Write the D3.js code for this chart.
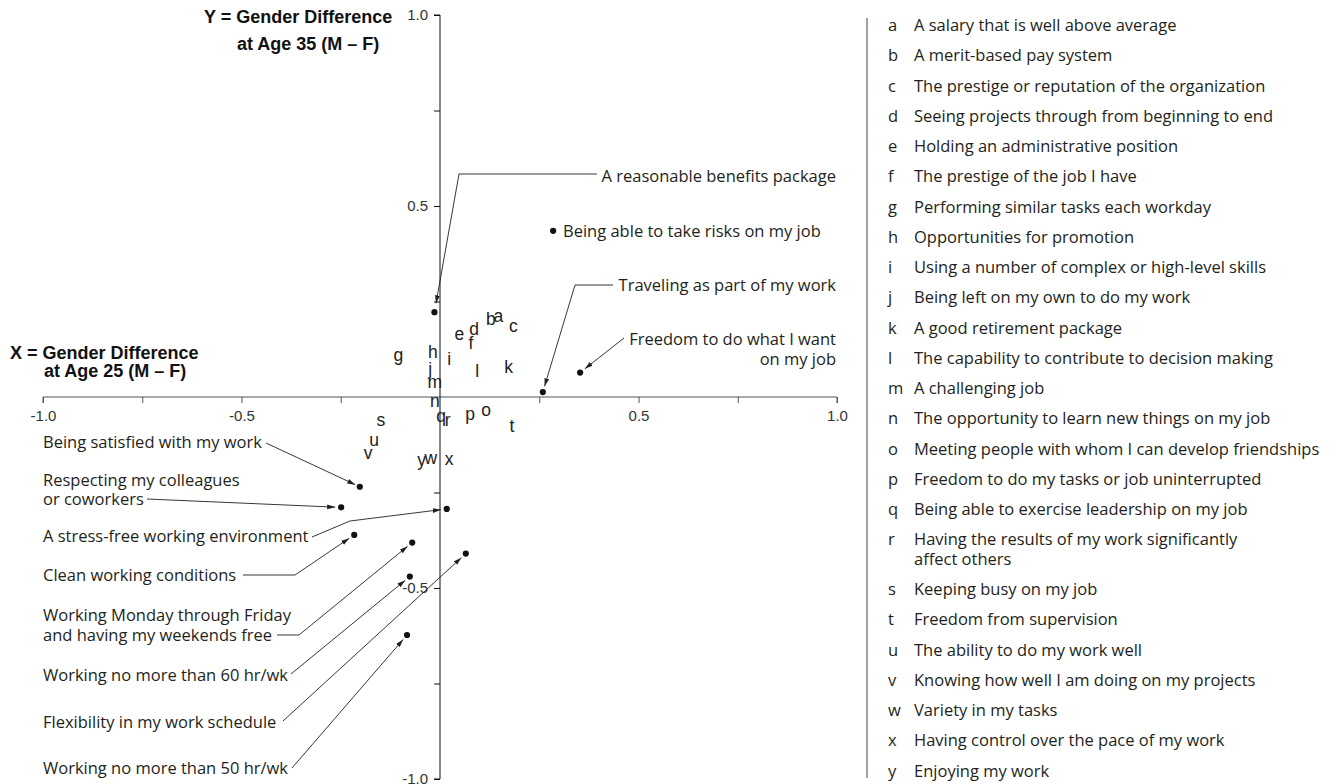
<!DOCTYPE html>
<html><head><meta charset="utf-8">
<script src="https://cdn.jsdelivr.net/npm/d3@7"></script>
<style>body{margin:0;background:#fff;} svg{display:block;}</style>
</head><body>
<svg id="chart" width="1337" height="784"></svg>
<script>
// ---------- DATA ----------
const letters = ["a","b","c","d","e","f","g","h","i","j","k","l","m","n","o","p","q","r","s","t","u","v","w","x","y"];
const descriptions = [
  ["A salary that is well above average"],
  ["A merit-based pay system"],
  ["The prestige or reputation of the organization"],
  ["Seeing projects through from beginning to end"],
  ["Holding an administrative position"],
  ["The prestige of the job I have"],
  ["Performing similar tasks each workday"],
  ["Opportunities for promotion"],
  ["Using a number of complex or high-level skills"],
  ["Being left on my own to do my work"],
  ["A good retirement package"],
  ["The capability to contribute to decision making"],
  ["A challenging job"],
  ["The opportunity to learn new things on my job"],
  ["Meeting people with whom I can develop friendships"],
  ["Freedom to do my tasks or job uninterrupted"],
  ["Being able to exercise leadership on my job"],
  ["Having the results of my work significantly", "affect others"],
  ["Keeping busy on my job"],
  ["Freedom from supervision"],
  ["The ability to do my work well"],
  ["Knowing how well I am doing on my projects"],
  ["Variety in my tasks"],
  ["Having control over the pace of my work"],
  ["Enjoying my work"]
];
// X = gender difference at age 25, Y = gender difference at age 35
const letterX = [0.147,0.128,0.185,0.086,0.049,0.078,-0.105,-0.018,0.023,-0.025,0.173,0.094,-0.013,-0.013,0.116,0.076,0.003,0.019,-0.149,0.181,-0.166,-0.181,-0.023,0.023,-0.046];
const letterY = [0.210,0.202,0.184,0.177,0.164,0.141,0.110,0.116,0.099,0.073,0.078,0.068,0.037,-0.012,-0.034,-0.045,-0.052,-0.060,-0.060,-0.078,-0.113,-0.147,-0.160,-0.163,-0.165];

const calloutNames = [
  ["A reasonable benefits package"],
  ["Being able to take risks on my job"],
  ["Traveling as part of my work"],
  ["Freedom to do what I want", "on my job"],
  ["Being satisfied with my work"],
  ["Respecting my colleagues", "or coworkers"],
  ["A stress-free working environment"],
  ["Clean working conditions"],
  ["Working Monday through Friday", "and having my weekends free"],
  ["Working no more than 60 hr/wk"],
  ["Flexibility in my work schedule"],
  ["Working no more than 50 hr/wk"]
];
const calloutX = [-0.014,0.285,0.259,0.353,-0.202,-0.249,0.017,-0.216,-0.070,-0.076,0.065,-0.083];
const calloutY = [0.222,0.435,0.013,0.064,-0.235,-0.289,-0.293,-0.361,-0.381,-0.470,-0.410,-0.623];

const axisTicks = [-1,-0.75,-0.5,-0.25,0.25,0.5,0.75,1];
const labelledTicks = [-1,-0.5,0.5,1];
const xTitle = ["X = Gender Difference", "at Age 25 (M \u2013 F)"];
const yTitle = ["Y = Gender Difference", "at Age 35 (M \u2013 F)"];

// ---------- LAYOUT ----------
const svg = d3.select("#chart");
const x = d3.scaleLinear().domain([-1, 1]).range([43, 837]);
const y = d3.scaleLinear().domain([-1, 1]).range([779, 15]);
const ink = "#231f20";
const sansFont = "'Open Sans', sans-serif";
const sansSize = 16.5;
const helv = "'Liberation Sans', Arial, sans-serif";

svg.append("rect").attr("width",1337).attr("height",784).attr("fill","#fff");

const defs = svg.append("defs");
defs.append("marker").attr("id","arrow")
  .attr("viewBox","0 -3 8 6").attr("refX",8).attr("refY",0)
  .attr("markerWidth",8).attr("markerHeight",6)
  .attr("markerUnits","userSpaceOnUse").attr("orient","auto")
  .append("path").attr("d","M0,-2.4L8,0L0,2.4Z").attr("fill",ink);

const fmt = d => labelledTicks.includes(d) ? d3.format(".1f")(d).replace("\u2212","-") : "";

// X axis
const gx = svg.append("g").attr("transform", `translate(0,${y(0)})`)
  .call(d3.axisBottom(x).tickValues(axisTicks).tickFormat(fmt).tickSize(6).tickPadding(7));
gx.select(".domain").attr("stroke","#555").attr("d", `M${x(-1)},6V0H${x(1)}V6`);
gx.selectAll(".tick line").attr("stroke","#555");
gx.selectAll(".tick text").attr("font-family",helv).attr("font-size",15).attr("fill","#333");

// Y axis
const gy = svg.append("g").attr("transform", `translate(${x(0)},0)`)
  .call(d3.axisLeft(y).tickValues(axisTicks).tickFormat(fmt).tickSize(6).tickPadding(6));
gy.select(".domain").attr("stroke","#111").attr("d", `M-6,${y(1)}H0V${y(-1)}H-6`);
gy.selectAll(".tick line").attr("stroke","#111");
gy.selectAll(".tick text").attr("font-family",helv).attr("font-size",15).attr("fill","#333");

// Axis titles
const yt = svg.append("text").attr("font-family",helv).attr("font-weight","bold")
  .attr("font-size",18).attr("fill","#111");
yt.append("tspan").attr("x",204).attr("y",23).text(yTitle[0]);
yt.append("tspan").attr("x",237).attr("y",50).text(yTitle[1]);
const xt = svg.append("text").attr("font-family",helv).attr("font-weight","bold")
  .attr("font-size",18).attr("fill","#111");
xt.append("tspan").attr("x",10).attr("y",359).text(xTitle[0]);
xt.append("tspan").attr("x",44).attr("y",376.5).text(xTitle[1]);

// Letter marks
svg.append("g").selectAll("text").data(letters).join("text")
  .attr("x",(d,i)=>x(letterX[i])).attr("y",(d,i)=>y(letterY[i]))
  .attr("dy","0.32em").attr("text-anchor","middle")
  .attr("font-family",helv).attr("font-size",17.5).attr("fill","#222")
  .text(d=>d);

// Callout dots
svg.append("g").selectAll("circle").data(calloutNames).join("circle")
  .attr("cx",(d,i)=>x(calloutX[i])).attr("cy",(d,i)=>y(calloutY[i]))
  .attr("r",3.1).attr("fill","#111");

// Callout label layout (pixel layout, not data)
const calloutLayout = [
  {anchor:"end",  tx:836, ty:176, lh:20, path:[[597,174],[459,174]], gap:9},
  {anchor:"start",tx:563, ty:231, lh:20, path:null},
  {anchor:"end",  tx:836, ty:285, lh:20, path:[[613,285],[575,285]], gap:6},
  {anchor:"end",  tx:836, ty:339, lh:20, path:[[624,338]], gap:6},
  {anchor:"start",tx:43,  ty:442, lh:20, path:[[266,443]], gap:5},
  {anchor:"start",tx:43,  ty:480, lh:19.5, path:[[147,499]], gap:6},
  {anchor:"start",tx:43,  ty:536, lh:20, path:[[312,537],[350,521]], gap:6},
  {anchor:"start",tx:43,  ty:575, lh:20, path:[[243,575],[295,575]], gap:6},
  {anchor:"start",tx:43,  ty:615, lh:20, path:[[277,635],[299,635]], gap:6},
  {anchor:"start",tx:43,  ty:675, lh:20, path:[[291,674]], gap:6},
  {anchor:"start",tx:43,  ty:722, lh:20, path:[[283,721]], gap:6},
  {anchor:"start",tx:43,  ty:768, lh:20, path:[[292,768]], gap:6}
];

const gc = svg.append("g");
calloutNames.forEach((lines, i) => {
  const L = calloutLayout[i];
  const t = gc.append("text").attr("font-family",sansFont).attr("font-size",sansSize)
    .attr("fill",ink).attr("text-anchor",L.anchor);
  lines.forEach((s, k) => t.append("tspan").attr("x",L.tx).attr("y",L.ty + k*L.lh).attr("dy","0.35em").text(s));
  if (L.path) {
    const px = x(calloutX[i]), py = y(calloutY[i]);
    const last = L.path[L.path.length-1];
    const dx = px - last[0], dy = py - last[1];
    const len = Math.hypot(dx, dy);
    const tip = [px - dx/len*L.gap, py - dy/len*L.gap];
    const pts = L.path.concat([tip]);
    gc.append("path").attr("d", d3.line()(pts)).attr("fill","none")
      .attr("stroke",ink).attr("stroke-width",0.9).attr("marker-end","url(#arrow)");
  }
});

// Legend
const lg = svg.append("g");
lg.append("line").attr("x1",867).attr("x2",867).attr("y1",18).attr("y2",778)
  .attr("stroke","#444").attr("stroke-width",1);
let ly = 25.3;
letters.forEach((l, i) => {
  lg.append("text").attr("x",888).attr("y",ly).attr("dy","0.35em")
    .attr("font-family",sansFont).attr("font-size",sansSize).attr("fill",ink).text(l);
  const t = lg.append("text").attr("font-family",sansFont).attr("font-size",sansSize).attr("fill",ink);
  descriptions[i].forEach((s,k) => t.append("tspan").attr("x",914).attr("y",ly + k*19.6).attr("dy","0.35em").text(s));
  ly += 30.25 + (descriptions[i].length-1)*19.6;
});
</script>
</body></html>
